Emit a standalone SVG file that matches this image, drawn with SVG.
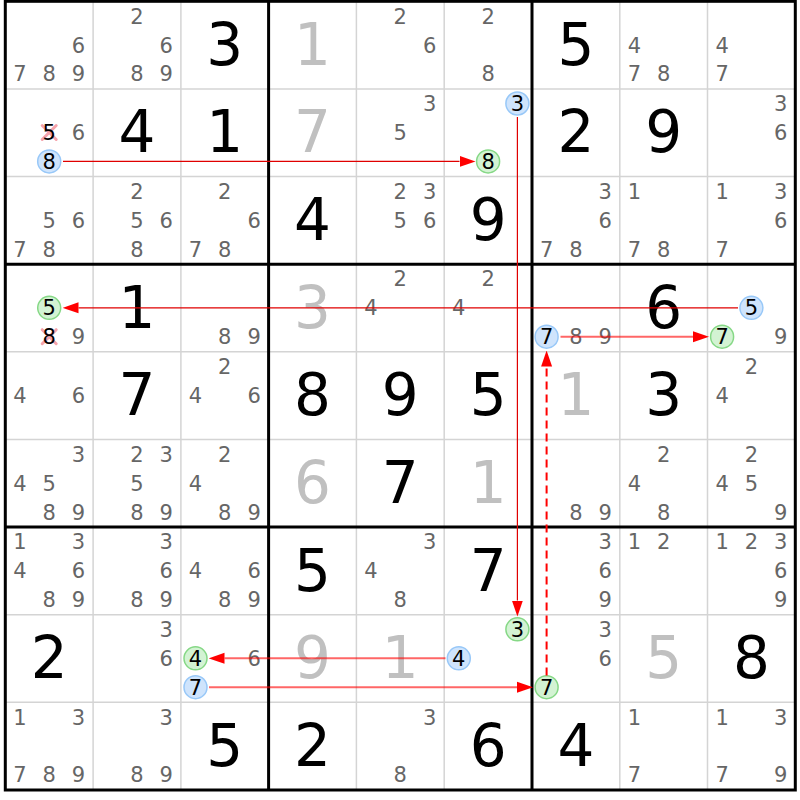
<svg xmlns="http://www.w3.org/2000/svg" width="800" height="800" viewBox="0 0 800 800">
<style>
text { font-family: "DejaVu Sans", "Liberation Sans", sans-serif; text-anchor: middle; }
.c { font-size: 21px; fill: #666; }
.g { font-size: 58px; fill: #000; }
.s { font-size: 58px; fill: #c0c0c0; }
.h { font-size: 21px; fill: #000; }
.blue { fill: #cfe4fc; stroke: #98c8f8; stroke-width: 1.5; }
.green { fill: #d3f3d3; stroke: #86d886; stroke-width: 1.5; }
.x { stroke: #f5a3ab; stroke-width: 3; stroke-linecap: round; }
.thin { stroke: #d4d4d4; stroke-width: 1.5; }
.thick { stroke: #000; stroke-width: 3; }
.l1 { stroke: #e00000; stroke-width: 1.2; fill: none; }
.l2 { stroke: #ff0000; stroke-opacity: 0.6; stroke-width: 2; fill: none; }
.ld { stroke: #ff0000; stroke-width: 2; stroke-dasharray: 8 5; fill: none; }
</style>
<defs>
<marker id="ah" viewBox="0 -6 16 12" refX="0" refY="0" markerWidth="16" markerHeight="12" markerUnits="userSpaceOnUse" orient="auto">
<path d="M0,-5.5 L16,0 L0,5.5 Z" fill="#ff0000"/>
</marker>
</defs>
<rect x="0" y="0" width="800" height="800" fill="#fff"/>
<g id="grid">
<g class="thin">
<line x1="93.1" y1="1.3" x2="93.1" y2="790"/>
<line x1="180.9" y1="1.3" x2="180.9" y2="790"/>
<line x1="356.4" y1="1.3" x2="356.4" y2="790"/>
<line x1="444.2" y1="1.3" x2="444.2" y2="790"/>
<line x1="619.8" y1="1.3" x2="619.8" y2="790"/>
<line x1="707.5" y1="1.3" x2="707.5" y2="790"/>
<line x1="5.3" y1="88.9" x2="795.3" y2="88.9"/>
<line x1="5.3" y1="176.6" x2="795.3" y2="176.6"/>
<line x1="5.3" y1="351.8" x2="795.3" y2="351.8"/>
<line x1="5.3" y1="439.5" x2="795.3" y2="439.5"/>
<line x1="5.3" y1="614.7" x2="795.3" y2="614.7"/>
<line x1="5.3" y1="702.3" x2="795.3" y2="702.3"/>
</g>
<g class="thick">
<line x1="268.6" y1="1.3" x2="268.6" y2="790"/>
<line x1="532" y1="1.3" x2="532" y2="790"/>
<line x1="5.3" y1="264.2" x2="795.3" y2="264.2"/>
<line x1="5.3" y1="527.1" x2="795.3" y2="527.1"/>
<rect x="5.3" y="1.3" width="790" height="788.7" fill="none"/>
</g>
</g>
<g id="cells">
<g id="r0c0"><text class="c" x="78.5" y="52.5">6</text><text class="c" x="19.9" y="81.4">7</text><text class="c" x="49.2" y="81.4">8</text><text class="c" x="78.5" y="81.4">9</text></g>
<g id="r0c1"><text class="c" x="137" y="23.5">2</text><text class="c" x="166.3" y="52.5">6</text><text class="c" x="137" y="81.4">8</text><text class="c" x="166.3" y="81.4">9</text></g>
<g id="r0c2"><text class="g" x="224.8" y="64.8">3</text></g>
<g id="r0c3"><text class="s" x="312.5" y="64.8">1</text></g>
<g id="r0c4"><text class="c" x="400.3" y="23.5">2</text><text class="c" x="429.6" y="52.5">6</text></g>
<g id="r0c5"><text class="c" x="488.1" y="23.5">2</text><text class="c" x="488.1" y="81.4">8</text></g>
<g id="r0c6"><text class="g" x="575.9" y="64.8">5</text></g>
<g id="r0c7"><text class="c" x="634.4" y="52.5">4</text><text class="c" x="634.4" y="81.4">7</text><text class="c" x="663.7" y="81.4">8</text></g>
<g id="r0c8"><text class="c" x="722.1" y="52.5">4</text><text class="c" x="722.1" y="81.4">7</text></g>

<g id="r1c0"><line class="x" x1="42.2" y1="125.5" x2="56.2" y2="139.5"/><line class="x" x1="56.2" y1="125.5" x2="42.2" y2="139.5"/><text class="h" x="49.2" y="140.1">5</text><text class="c" x="78.5" y="140.1">6</text><circle class="blue" cx="49.2" cy="161.4" r="11.5"/><text class="h" x="49.2" y="169">8</text></g>
<g id="r1c1"><text class="g" x="137" y="152.4">4</text></g>
<g id="r1c2"><text class="g" x="224.8" y="152.4">1</text></g>
<g id="r1c3"><text class="s" x="312.5" y="152.4">7</text></g>
<g id="r1c4"><text class="c" x="429.6" y="111.1">3</text><text class="c" x="400.3" y="140.1">5</text></g>
<g id="r1c5"><circle class="blue" cx="517.4" cy="103.5" r="11.5"/><text class="h" x="517.4" y="111.1">3</text><circle class="green" cx="488.1" cy="161.4" r="11.5"/><text class="h" x="488.1" y="169">8</text></g>
<g id="r1c6"><text class="g" x="575.9" y="152.4">2</text></g>
<g id="r1c7"><text class="g" x="663.7" y="152.4">9</text></g>
<g id="r1c8"><text class="c" x="780.7" y="111.1">3</text><text class="c" x="780.7" y="140.1">6</text></g>

<g id="r2c0"><text class="c" x="49.2" y="227.8">5</text><text class="c" x="78.5" y="227.8">6</text><text class="c" x="19.9" y="256.7">7</text><text class="c" x="49.2" y="256.7">8</text></g>
<g id="r2c1"><text class="c" x="137" y="198.8">2</text><text class="c" x="137" y="227.8">5</text><text class="c" x="166.3" y="227.8">6</text><text class="c" x="137" y="256.7">8</text></g>
<g id="r2c2"><text class="c" x="224.8" y="198.8">2</text><text class="c" x="254.1" y="227.8">6</text><text class="c" x="195.5" y="256.7">7</text><text class="c" x="224.8" y="256.7">8</text></g>
<g id="r2c3"><text class="g" x="312.5" y="240.1">4</text></g>
<g id="r2c4"><text class="c" x="400.3" y="198.8">2</text><text class="c" x="429.6" y="198.8">3</text><text class="c" x="400.3" y="227.8">5</text><text class="c" x="429.6" y="227.8">6</text></g>
<g id="r2c5"><text class="g" x="488.1" y="240.1">9</text></g>
<g id="r2c6"><text class="c" x="605.2" y="198.8">3</text><text class="c" x="605.2" y="227.8">6</text><text class="c" x="546.6" y="256.7">7</text><text class="c" x="575.9" y="256.7">8</text></g>
<g id="r2c7"><text class="c" x="634.4" y="198.8">1</text><text class="c" x="634.4" y="256.7">7</text><text class="c" x="663.7" y="256.7">8</text></g>
<g id="r2c8"><text class="c" x="722.1" y="198.8">1</text><text class="c" x="780.7" y="198.8">3</text><text class="c" x="780.7" y="227.8">6</text><text class="c" x="722.1" y="256.7">7</text></g>

<g id="r3c0"><circle class="green" cx="49.2" cy="307.8" r="11.5"/><text class="h" x="49.2" y="315.4">5</text><line class="x" x1="42.2" y1="329.7" x2="56.2" y2="343.7"/><line class="x" x1="56.2" y1="329.7" x2="42.2" y2="343.7"/><text class="h" x="49.2" y="344.3">8</text><text class="c" x="78.5" y="344.3">9</text></g>
<g id="r3c1"><text class="g" x="137" y="327.7">1</text></g>
<g id="r3c2"><text class="c" x="224.8" y="344.3">8</text><text class="c" x="254.1" y="344.3">9</text></g>
<g id="r3c3"><text class="s" x="312.5" y="327.7">3</text></g>
<g id="r3c4"><text class="c" x="400.3" y="286.4">2</text><text class="c" x="371" y="315.4">4</text></g>
<g id="r3c5"><text class="c" x="488.1" y="286.4">2</text><text class="c" x="458.8" y="315.4">4</text></g>
<g id="r3c6"><circle class="blue" cx="546.6" cy="336.7" r="11.5"/><text class="h" x="546.6" y="344.3">7</text><text class="c" x="575.9" y="344.3">8</text><text class="c" x="605.2" y="344.3">9</text></g>
<g id="r3c7"><text class="g" x="663.7" y="327.7">6</text></g>
<g id="r3c8"><circle class="blue" cx="751.4" cy="307.8" r="11.5"/><text class="h" x="751.4" y="315.4">5</text><circle class="green" cx="722.1" cy="336.7" r="11.5"/><text class="h" x="722.1" y="344.3">7</text><text class="c" x="780.7" y="344.3">9</text></g>

<g id="r4c0"><text class="c" x="19.9" y="403">4</text><text class="c" x="78.5" y="403">6</text></g>
<g id="r4c1"><text class="g" x="137" y="415.3">7</text></g>
<g id="r4c2"><text class="c" x="224.8" y="374">2</text><text class="c" x="195.5" y="403">4</text><text class="c" x="254.1" y="403">6</text></g>
<g id="r4c3"><text class="g" x="312.5" y="415.3">8</text></g>
<g id="r4c4"><text class="g" x="400.3" y="415.3">9</text></g>
<g id="r4c5"><text class="g" x="488.1" y="415.3">5</text></g>
<g id="r4c6"><text class="s" x="575.9" y="415.3">1</text></g>
<g id="r4c7"><text class="g" x="663.7" y="415.3">3</text></g>
<g id="r4c8"><text class="c" x="751.4" y="374">2</text><text class="c" x="722.1" y="403">4</text></g>

<g id="r5c0"><text class="c" x="78.5" y="461.7">3</text><text class="c" x="19.9" y="490.7">4</text><text class="c" x="49.2" y="490.7">5</text><text class="c" x="49.2" y="519.6">8</text><text class="c" x="78.5" y="519.6">9</text></g>
<g id="r5c1"><text class="c" x="137" y="461.7">2</text><text class="c" x="166.3" y="461.7">3</text><text class="c" x="137" y="490.7">5</text><text class="c" x="137" y="519.6">8</text><text class="c" x="166.3" y="519.6">9</text></g>
<g id="r5c2"><text class="c" x="224.8" y="461.7">2</text><text class="c" x="195.5" y="490.7">4</text><text class="c" x="224.8" y="519.6">8</text><text class="c" x="254.1" y="519.6">9</text></g>
<g id="r5c3"><text class="s" x="312.5" y="503">6</text></g>
<g id="r5c4"><text class="g" x="400.3" y="503">7</text></g>
<g id="r5c5"><text class="s" x="488.1" y="503">1</text></g>
<g id="r5c6"><text class="c" x="575.9" y="519.6">8</text><text class="c" x="605.2" y="519.6">9</text></g>
<g id="r5c7"><text class="c" x="663.7" y="461.7">2</text><text class="c" x="634.4" y="490.7">4</text><text class="c" x="663.7" y="519.6">8</text></g>
<g id="r5c8"><text class="c" x="751.4" y="461.7">2</text><text class="c" x="722.1" y="490.7">4</text><text class="c" x="751.4" y="490.7">5</text><text class="c" x="780.7" y="519.6">9</text></g>

<g id="r6c0"><text class="c" x="19.9" y="549.3">1</text><text class="c" x="78.5" y="549.3">3</text><text class="c" x="19.9" y="578.3">4</text><text class="c" x="78.5" y="578.3">6</text><text class="c" x="49.2" y="607.2">8</text><text class="c" x="78.5" y="607.2">9</text></g>
<g id="r6c1"><text class="c" x="166.3" y="549.3">3</text><text class="c" x="166.3" y="578.3">6</text><text class="c" x="137" y="607.2">8</text><text class="c" x="166.3" y="607.2">9</text></g>
<g id="r6c2"><text class="c" x="195.5" y="578.3">4</text><text class="c" x="254.1" y="578.3">6</text><text class="c" x="224.8" y="607.2">8</text><text class="c" x="254.1" y="607.2">9</text></g>
<g id="r6c3"><text class="g" x="312.5" y="590.6">5</text></g>
<g id="r6c4"><text class="c" x="429.6" y="549.3">3</text><text class="c" x="371" y="578.3">4</text><text class="c" x="400.3" y="607.2">8</text></g>
<g id="r6c5"><text class="g" x="488.1" y="590.6">7</text></g>
<g id="r6c6"><text class="c" x="605.2" y="549.3">3</text><text class="c" x="605.2" y="578.3">6</text><text class="c" x="605.2" y="607.2">9</text></g>
<g id="r6c7"><text class="c" x="634.4" y="549.3">1</text><text class="c" x="663.7" y="549.3">2</text></g>
<g id="r6c8"><text class="c" x="722.1" y="549.3">1</text><text class="c" x="751.4" y="549.3">2</text><text class="c" x="780.7" y="549.3">3</text><text class="c" x="780.7" y="578.3">6</text><text class="c" x="780.7" y="607.2">9</text></g>

<g id="r7c0"><text class="g" x="49.2" y="678.2">2</text></g>
<g id="r7c1"><text class="c" x="166.3" y="636.9">3</text><text class="c" x="166.3" y="665.9">6</text></g>
<g id="r7c2"><circle class="green" cx="195.5" cy="658.3" r="11.5"/><text class="h" x="195.5" y="665.9">4</text><text class="c" x="254.1" y="665.9">6</text><circle class="blue" cx="195.5" cy="687.2" r="11.5"/><text class="h" x="195.5" y="694.8">7</text></g>
<g id="r7c3"><text class="s" x="312.5" y="678.2">9</text></g>
<g id="r7c4"><text class="s" x="400.3" y="678.2">1</text></g>
<g id="r7c5"><circle class="green" cx="517.4" cy="629.3" r="11.5"/><text class="h" x="517.4" y="636.9">3</text><circle class="blue" cx="458.8" cy="658.3" r="11.5"/><text class="h" x="458.8" y="665.9">4</text></g>
<g id="r7c6"><text class="c" x="605.2" y="636.9">3</text><text class="c" x="605.2" y="665.9">6</text><circle class="green" cx="546.6" cy="687.2" r="11.5"/><text class="h" x="546.6" y="694.8">7</text></g>
<g id="r7c7"><text class="s" x="663.7" y="678.2">5</text></g>
<g id="r7c8"><text class="g" x="751.4" y="678.2">8</text></g>

<g id="r8c0"><text class="c" x="19.9" y="724.5">1</text><text class="c" x="78.5" y="724.5">3</text><text class="c" x="19.9" y="782.4">7</text><text class="c" x="49.2" y="782.4">8</text><text class="c" x="78.5" y="782.4">9</text></g>
<g id="r8c1"><text class="c" x="166.3" y="724.5">3</text><text class="c" x="137" y="782.4">8</text><text class="c" x="166.3" y="782.4">9</text></g>
<g id="r8c2"><text class="g" x="224.8" y="765.8">5</text></g>
<g id="r8c3"><text class="g" x="312.5" y="765.8">2</text></g>
<g id="r8c4"><text class="c" x="429.6" y="724.5">3</text><text class="c" x="400.3" y="782.4">8</text></g>
<g id="r8c5"><text class="g" x="488.1" y="765.8">6</text></g>
<g id="r8c6"><text class="g" x="575.9" y="765.8">4</text></g>
<g id="r8c7"><text class="c" x="634.4" y="724.5">1</text><text class="c" x="634.4" y="782.4">7</text></g>
<g id="r8c8"><text class="c" x="722.1" y="724.5">1</text><text class="c" x="780.7" y="724.5">3</text><text class="c" x="722.1" y="782.4">7</text><text class="c" x="780.7" y="782.4">9</text></g>
</g>
<g id="connectors">
<line class="l1" x1="63" y1="161.4" x2="459.5" y2="161.4" marker-end="url(#ah)"/>
<line class="l1" x1="517.4" y1="117" x2="517.4" y2="600.5" marker-end="url(#ah)"/>
<line class="l1" x1="738" y1="307.8" x2="78.5" y2="307.8" marker-end="url(#ah)"/>
<line class="l2" x1="560.5" y1="336.7" x2="693" y2="336.7" marker-end="url(#ah)"/>
<line class="ld" x1="546.6" y1="675.5" x2="546.6" y2="366.5" marker-end="url(#ah)"/>
<line class="l2" x1="445.5" y1="658.3" x2="224.5" y2="658.3" marker-end="url(#ah)"/>
<line class="l2" x1="209" y1="687.2" x2="517" y2="687.2" marker-end="url(#ah)"/>
</g>
</svg>
